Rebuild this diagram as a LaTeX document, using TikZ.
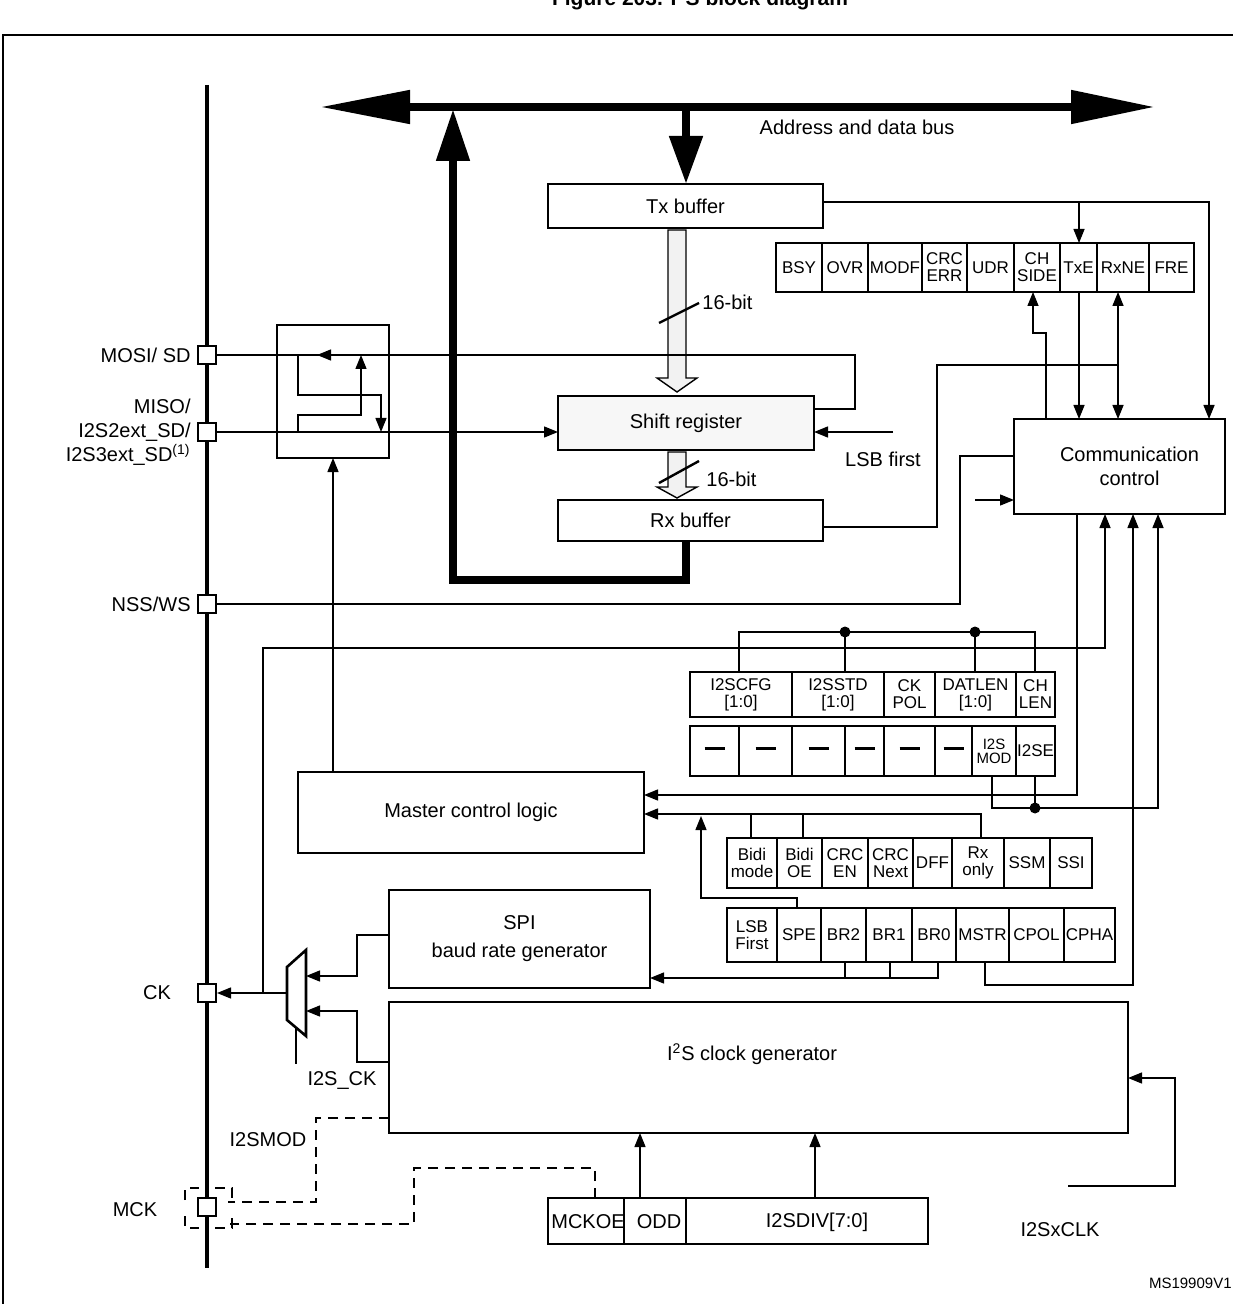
\documentclass[tikz,border=0pt]{standalone}
\usepackage{fontspec}
\setmainfont{Liberation Sans}
\usetikzlibrary{arrows.meta}
\newcommand\bx[7][]{\node[box,#1,minimum width={(#5-#3)*0.5pt},minimum height={(#6-#4)*0.5pt}] (#2) at ({(#3+#5)/2},{(#4+#6)/2}) {#7};}
\newcommand\dsr{\rule[2.5pt]{10pt}{1.6pt}}
\begin{document}
\begin{tikzpicture}[x=0.5pt,y=-0.5pt,
  box/.style={draw,line width=1.3pt,inner sep=0pt,outer sep=0pt,align=center,font=\fontsize{10}{12}\selectfont},
  cell/.style={box,font=\fontsize{8.5}{8.5}\selectfont},
  ln/.style={line width=0.7pt},
  arr/.style={ln,-{Triangle[length=7pt,width=5.5pt]}},
  darr/.style={ln,{Triangle[length=7pt,width=5.5pt]}-{Triangle[length=7pt,width=5.5pt]}},
  dsh/.style={ln,dash pattern=on 5pt off 3.5pt},
  pin/.style={draw,line width=1pt,fill=white,minimum size=9pt,inner sep=0pt},
  lab/.style={font=\fontsize{10}{12}\selectfont,inner sep=1pt},
  dot/.style={circle,fill,inner sep=0pt,minimum size=5.5pt}]
\useasboundingbox (0,0) rectangle (1232,1304);
\node[font=\bfseries\fontsize{10.5}{12}\selectfont] (title) at (700,-1) {Figure 203. I\textsuperscript{2}S block diagram};
% frame
\draw[line width=1.3pt] (3,1310) -- (3,35) -- (1240,35);
% pin bus
\draw[line width=2pt] (207,85) -- (207,1268);
\node[pin] (mosi) at (207,355) {};
\node[pin] (miso) at (207,432) {};
\node[pin] (nss) at (207,604) {};
\node[pin] (ck) at (207,993) {};
\node[pin] (mck) at (207,1207) {};
\node[lab,anchor=east] (lmosi) at (193,355) {MOSI/ SD};
\node[lab,anchor=east,align=right] (lmiso) at (193,432) {MISO/\\I2S2ext\_SD/\\I2S3ext\_SD\textsuperscript{(1)}};
\node[lab,anchor=east] (lnss) at (193,604) {NSS/WS};
\node[lab] (lck) at (157,993) {CK};
\node[lab] (lmck) at (135,1210) {MCK};
\draw[dsh] (185,1200) -- (185,1188) -- (199,1188) (215,1188) -- (232,1188) -- (232,1200)
  (185,1216) -- (185,1228) -- (199,1228) (215,1228) -- (232,1228) -- (232,1216);
% data bus
\coordinate (busL) at (320,107);
\coordinate (busR) at (1155,107);
\draw[line width=4pt,{Triangle[length=45pt,width=16pt]}-{Triangle[length=42pt,width=16pt]}] (busL) -- (busR);
\node[lab] (lbus) at (857,127) {Address and data bus};
% buffers
\bx{tx}{548}{184}{823}{228}{Tx buffer}
\bx[fill=gray!6]{sr}{558}{396}{814}{450}{Shift register}
\bx{rx}{558}{500}{823}{541}{Rx buffer}
\draw[line width=4pt,-{Triangle[length=24pt,width=16pt]}] (686,105) -- (tx.north -| 686,0);
\draw[line width=4pt,-{Triangle[length=26pt,width=16pt]}] (rx.south -| 686,0) -- (686,580) -- (453,580) -- (453,109);
% hollow arrows
\draw[line width=0.7pt,fill=gray!10] (668,230) -- (686,230) -- (686,378) -- (697,378) -- (677,392) -- (657,378) -- (668,378) -- cycle;
\draw[line width=0.7pt,fill=gray!10] (668,452) -- (686,452) -- (686,487) -- (697,487) -- (677,498) -- (657,487) -- (668,487) -- cycle;
\draw[line width=1.2pt] (659,323) -- (699,303);
\draw[line width=1.2pt] (659,483) -- (699,461);
\node[lab,anchor=west] (b16a) at (700,302) {16-bit};
\node[lab,anchor=west] (b16b) at (704,479) {16-bit};
% status register
\bx[cell]{bsy}{776}{243}{822}{292}{BSY}
\bx[cell]{ovr}{822}{243}{868}{292}{OVR}
\bx[cell]{modf}{868}{243}{922}{292}{MODF}
\bx[cell]{crcerr}{922}{243}{967}{292}{CRC\\ERR}
\bx[cell]{udr}{967}{243}{1014}{292}{UDR}
\bx[cell]{chside}{1014}{243}{1060}{292}{CH\\SIDE}
\bx[cell]{txe}{1060}{243}{1097}{292}{TxE}
\bx[cell]{rxne}{1097}{243}{1149}{292}{RxNE}
\bx[cell]{fre}{1149}{243}{1194}{292}{FRE}
% communication control
\bx{cc}{1014}{419}{1225}{514}{\quad Communication\\\quad control}
\draw[arr] (tx.east |- 0,202) -- (1209,202) -- (1209,419);
\draw[arr] (1079,202) -- (1079,243);
\draw[arr] (1079,292) -- (1079,419);
\draw[darr] (1118,292) -- (1118,419);
\draw[arr] (1046,419) -- (1046,333) -- (1033,333) -- (1033,292);
\draw[ln] (rx.east |- 0,527) -- (937,527) -- (937,365) -- (1118,365);
\draw[ln] (sr.east |- 0,409) -- (855,409) -- (855,355) -- (mosi.east);
\draw[arr] (893,432) -- (sr.east |- 0,432);
\node[lab] (llsb) at (883,459) {LSB first};
\draw[ln] (1014,456) -- (960,456) -- (960,604) -- (nss.east);
\draw[arr] (975,500) -- (1014,500);
% mux box
\bx{mux}{277}{325}{389}{458}{}
\draw[ln,-{Triangle[length=7pt,width=5.5pt]}] (345,355) -- (317,355);
\draw[arr] (298,355) -- (298,395) -- (381,395) -- (381,432);
\draw[arr] (298,432) -- (298,415) -- (361,415) -- (361,355);
\draw[arr] (miso.east) -- (sr.west |- 0,432);
% master control logic
\bx{mcl}{298}{772}{644}{853}{Master control logic}
\draw[arr] (333,772) -- (mux.south -| 333,0);
% I2S config register
\bx[cell]{i2scfg}{690}{672}{792}{717}{I2SCFG\\{}[1:0]}
\bx[cell]{i2sstd}{792}{672}{884}{717}{I2SSTD\\{}[1:0]}
\bx[cell]{ckpol}{884}{672}{935}{717}{CK\\POL}
\bx[cell]{datlen}{935}{672}{1016}{717}{DATLEN\\{}[1:0]}
\bx[cell]{chlen}{1016}{672}{1055}{717}{CH\\LEN}
\bx[cell]{d1}{690}{726}{739}{776}{\dsr}
\bx[cell]{d2}{739}{726}{792}{776}{\dsr}
\bx[cell]{d3}{792}{726}{845}{776}{\dsr}
\bx[cell]{d4}{845}{726}{884}{776}{\dsr}
\bx[cell]{d5}{884}{726}{935}{776}{\dsr}
\bx[cell]{d6}{935}{726}{972}{776}{\dsr}
\bx[cell,font=\fontsize{7.5}{7}\selectfont]{i2smod}{972}{726}{1016}{776}{I2S\\MOD}
\bx[cell]{i2se}{1016}{726}{1055}{776}{I2SE}
\draw[ln] (739,672) -- (739,632) -- (1035,632) -- (1035,672);
\draw[ln] (845,632) -- (845,672);
\draw[ln] (975,632) -- (975,672);
\node[dot] (j1) at (845,632) {};
\node[dot] (j2) at (975,632) {};
\draw[arr] (263,993) -- (263,648) -- (1105,648) -- (1105,514);
\draw[arr] (1077,514) -- (1077,795) -- (mcl.east |- 0,795);
\draw[arr] (992,776) -- (992,808) -- (1158,808) -- (1158,514);
\draw[ln] (1035,776) -- (1035,808);
\node[dot] (j3) at (1035,808) {};
% CR1 upper row
\bx[cell]{bidim}{727}{838}{777}{888}{Bidi\\mode}
\bx[cell]{bidioe}{777}{838}{822}{888}{Bidi\\OE}
\bx[cell]{crcen}{822}{838}{868}{888}{CRC\\EN}
\bx[cell]{crcnx}{868}{838}{913}{888}{CRC\\Next}
\bx[cell]{dff}{913}{838}{952}{888}{DFF}
\bx[cell]{rxonly}{952}{838}{1004}{888}{Rx\\only}
\bx[cell]{ssm}{1004}{838}{1050}{888}{SSM}
\bx[cell]{ssi}{1050}{838}{1092}{888}{SSI}
\draw[arr] (981,838) -- (981,814) -- (mcl.east |- 0,814);
\draw[ln] (751,838) -- (751,814);
\draw[ln] (803,838) -- (803,814);
% CR1 lower row
\bx[cell]{lsbf}{727}{908}{777}{962}{LSB\\First}
\bx[cell]{spe}{777}{908}{821}{962}{SPE}
\bx[cell]{br2}{821}{908}{866}{962}{BR2}
\bx[cell]{br1}{866}{908}{912}{962}{BR1}
\bx[cell]{br0}{912}{908}{956}{962}{BR0}
\bx[cell]{mstr}{956}{908}{1009}{962}{MSTR}
\bx[cell]{cpol}{1009}{908}{1064}{962}{CPOL}
\bx[cell]{cpha}{1064}{908}{1115}{962}{CPHA}
\draw[arr] (797,908) -- (797,898) -- (701,898) -- (701,816);
\draw[ln] (845,962) -- (845,978) (890,962) -- (890,978);
\draw[arr] (938,962) -- (938,978) -- (650,978);
\draw[arr] (985,962) -- (985,985) -- (1133,985) -- (1133,514);
% baud rate and clock generators
\bx{baud}{389}{890}{650}{988}{SPI\\[2pt]baud rate generator}
\bx{i2sclk}{389}{1002}{1128}{1133}{}
\node[lab] (li2sclk) at (752,1054) {I\textsuperscript{2}S clock generator};
% output mux
\draw[line width=1.3pt,fill=white] (287,967) -- (306,950) -- (306,1036) -- (287,1020) -- cycle;
\coordinate (muxo) at (287,993);
\draw[arr] (muxo) -- (ck.east);
\draw[arr] (baud.west |- 0,935) -- (357,935) -- (357,976) -- (306,976);
\draw[arr] (i2sclk.west |- 0,1062) -- (357,1062) -- (357,1011) -- (306,1011);
\draw[ln] (296,1028) -- (296,1064);
\node[lab] (li2sck) at (342,1080) {I2S\_CK};
\node[lab] (li2smod) at (268,1140) {I2SMOD};
% MCK dashed
\draw[dsh] (389,1118) -- (316,1118) -- (316,1202) -- (228,1202);
\draw[dsh] (595,1198) -- (595,1168) -- (414,1168) -- (414,1224) -- (230,1224);
% prescaler register
\bx{presc}{548}{1198}{928}{1244}{}
\draw[ln] (624,1198) -- (624,1244) (686,1198) -- (686,1244);
\node[lab] (lmckoe) at (588,1222) {MCKOE};
\node[lab] (lodd) at (659,1222) {ODD};
\node[lab] (ldiv) at (817,1222) {I2SDIV[7:0]};
\draw[arr] (640,1198) -- (640,1133);
\draw[arr] (815,1198) -- (815,1133);
\draw[arr] (1068,1186) -- (1175,1186) -- (1175,1078) -- (i2sclk.east |- 0,1078);
\node[lab] (lxclk) at (1060,1230) {I2SxCLK};
\node[font=\fontsize{7.5}{9}\selectfont,anchor=east,inner sep=0pt] (ms) at (1232,1283) {MS19909V1};
\end{tikzpicture}
\end{document}
